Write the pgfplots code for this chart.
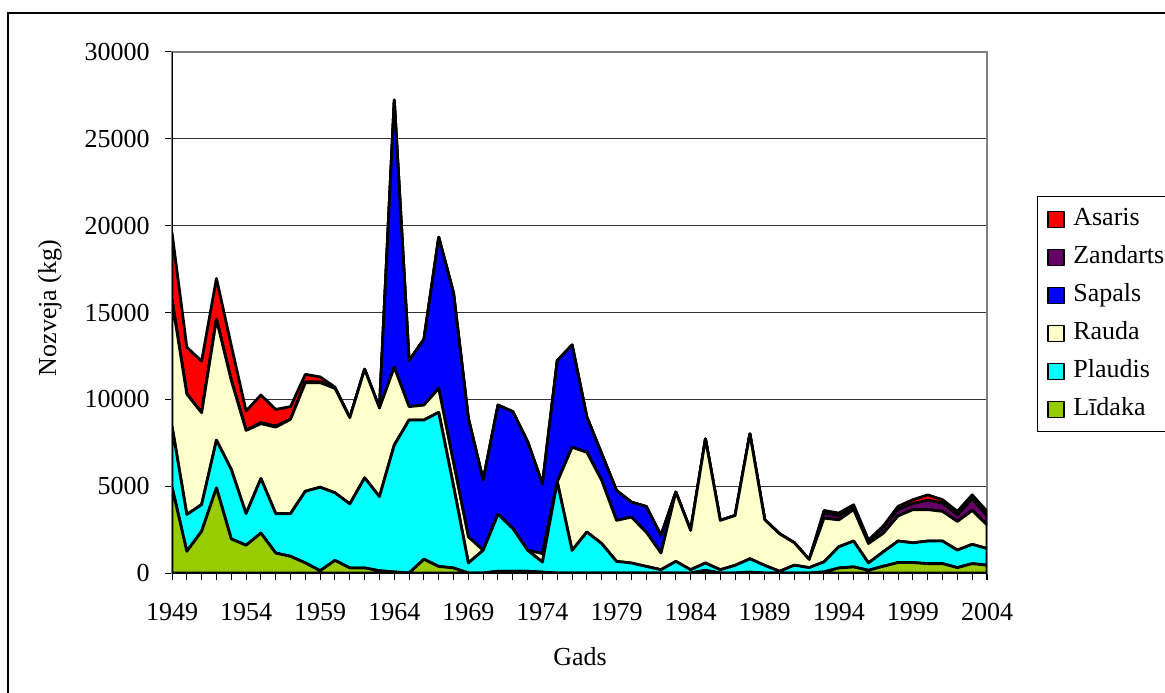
\documentclass[border=0pt]{standalone}
\usepackage{pgfplots}
\usepackage{pgfplotstable}
\pgfplotsset{compat=1.18}
\usepackage{fontspec}
\setmainfont{Liberation Serif}
\definecolor{cAs}{HTML}{FF0000}
\definecolor{cZa}{HTML}{660066}
\definecolor{cSa}{HTML}{0000FF}
\definecolor{cRa}{HTML}{FFFFCC}
\definecolor{cPl}{HTML}{00FFFF}
\definecolor{cLi}{HTML}{99CC00}
\pgfplotstableread{
year L P R S Z A
1949 4950 3510 7240 0 0 3900
1950 1250 2120 6930 0 0 2700
1951 2400 1540 5290 0 0 2970
1952 4900 2750 6950 0 0 2360
1953 1960 4000 5140 0 0 2000
1954 1600 1820 4790 0 0 1120
1955 2300 3140 3160 50 0 1600
1956 1150 2270 4980 50 0 970
1957 960 2460 5430 0 0 730
1958 580 4130 6250 40 0 440
1959 130 4810 6020 40 0 290
1960 730 3890 6010 0 0 70
1961 290 3690 4960 0 0 0
1962 290 5190 6250 0 0 0
1963 130 4270 5100 0 0 0
1964 60 7310 4480 15380 0 0
1965 0 8810 770 2650 0 0
1966 790 8020 860 3790 0 0
1967 380 8870 1380 8700 0 0
1968 290 4710 1350 9770 0 0
1969 0 580 1500 6820 0 0
1970 0 1310 0 4040 0 0
1971 100 3280 0 6290 0 0
1972 100 2460 0 6730 0 0
1973 100 1210 0 6250 0 0
1974 50 580 490 4000 0 0
1975 0 5250 0 6980 0 0
1976 0 1300 5940 5890 0 0
1977 0 2360 4590 2020 0 0
1978 0 1690 3640 1530 0 0
1979 0 670 2360 1720 0 0
1980 0 575 2645 860 0 0
1981 0 380 1980 1470 0 0
1982 0 190 960 1010 0 0
1983 0 670 3990 0 0 0
1984 0 190 2260 0 0 0
1985 150 425 7145 0 0 0
1986 0 190 2840 0 0 0
1987 0 440 2870 0 0 0
1988 50 770 7190 0 0 0
1989 0 440 2630 0 0 0
1990 0 100 2160 0 0 0
1991 0 450 1290 0 0 0
1992 0 310 470 0 0 0
1993 60 580 2520 0 290 150
1994 290 1220 1550 0 240 150
1995 350 1490 1810 0 190 90
1996 155 425 1120 0 130 70
1997 390 830 1070 0 350 70
1998 600 1240 1450 0 360 190
1999 600 1140 1910 0 350 220
2000 540 1300 1810 0 540 310
2001 540 1300 1710 0 480 190
2002 310 1010 1650 0 380 200
2003 540 1110 1950 0 680 220
2004 450 960 1360 0 520 260
}\data
\begin{document}
\begin{tikzpicture}[x=1pt,y=1pt]
\useasboundingbox (0,0) rectangle (582.5,346);
\clip (0,0) rectangle (582.5,346);
\draw[line width=0.6pt] (4,-10) rectangle (600,339.5);
\begin{axis}[
  at={(86pt,59.5pt)}, anchor=south west,
  scale only axis, width=407.5pt, height=260.5pt,
  xmin=1949, xmax=2004, ymin=0, ymax=30000,
  stack plots=y,
  xtick={1949,1954,...,2004},
  minor xtick={1949,...,2004},
  ytick={0,5000,...,30000},
  scaled y ticks=false,
  tick align=outside,
  xtick pos=bottom, ytick pos=left,
  major tick length=3.5pt, minor tick length=3.5pt,
  tick style={black, line width=0.5pt},
  ymajorgrids,
  grid style={black!80, line width=0.5pt},
  axis line style={draw=black!50, line width=0.6pt},
  /pgf/number format/assume math mode=true,
  x tick label style={/pgf/number format/1000 sep={}, font=\fontsize{13}{15}\selectfont, inner sep=0pt, anchor=north, yshift=-11.5pt},
  y tick label style={/pgf/number format/1000 sep={}, /pgf/number format/fixed, font=\fontsize{13}{15}\selectfont, inner sep=0pt, anchor=east, xshift=-7.5pt},
  every axis x label/.style={at={(axis description cs:0.5006,-0.1612)}, anchor=center, font=\fontsize{13}{15}\selectfont},
  every axis y label/.style={at={(axis description cs:-0.1497,0.5086)}, anchor=center, rotate=90, font=\fontsize{13}{15}\selectfont},
  xlabel={Gads},
  ylabel={Nozveja (kg)},
  reverse legend,
  legend style={at={(1.0613,0.7236)}, anchor=north west, draw=black, line width=0.6pt, fill=white, inner sep=3pt, row sep=2.5pt,
    font=\fontsize{13}{15}\selectfont,
    nodes={inner sep=2pt, text height=9.5pt, text depth=3pt}},
  legend cell align=left,
  legend image code/.code={\path (-1.5pt,0pt) (10pt,0pt);\draw[#1, draw=black, line width=0.6pt] (0pt,-4pt) rectangle (8pt,4pt);},
  every axis plot/.append style={draw=black, line width=1.4pt, line join=round},
]
\addplot[fill=cLi] table[x=year,y=L] \data \closedcycle;
\addplot[fill=cPl] table[x=year,y=P] \data \closedcycle;
\addplot[fill=cRa] table[x=year,y=R] \data \closedcycle;
\addplot[fill=cSa] table[x=year,y=S] \data \closedcycle;
\addplot[fill=cZa] table[x=year,y=Z] \data \closedcycle;
\addplot[fill=cAs] table[x=year,y=A] \data \closedcycle;
\legend{Līdaka, Plaudis, Rauda, Sapals, Zandarts, Asaris}
\draw[black, line width=0.7pt] (rel axis cs:0,1) -- (rel axis cs:0,0) -- (rel axis cs:1,0);
\end{axis}
\end{tikzpicture}
\end{document}
